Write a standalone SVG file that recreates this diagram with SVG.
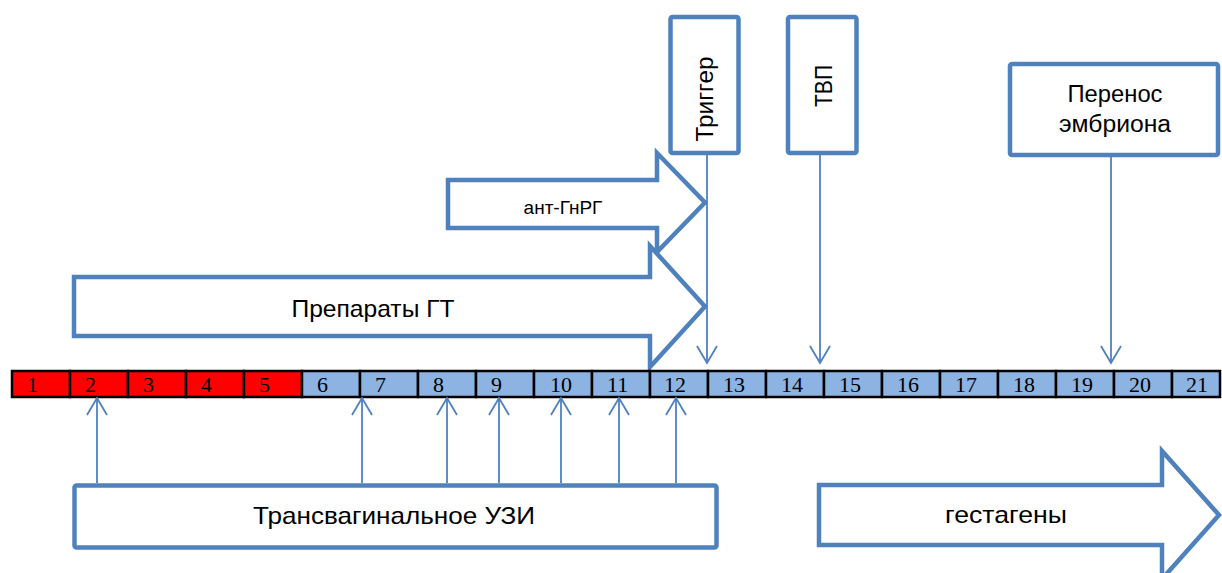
<svg xmlns="http://www.w3.org/2000/svg" width="1222" height="573" viewBox="0 0 1222 573">
<style>
.box{fill:#fff;stroke:#4F81BD;stroke-width:4.5;stroke-linejoin:round}
.blk{fill:#fff;stroke:#4F81BD;stroke-width:4.5;stroke-linejoin:miter}
.lbl{font-family:"Liberation Sans",Arial,sans-serif;fill:#000}
.num{font-family:"Liberation Serif","Times New Roman",serif;font-size:22px;fill:#000}
.red{fill:#FF0000;stroke:#000;stroke-width:2.5}
.blu{fill:#8DB3E2;stroke:#000;stroke-width:2.5}
.con{fill:none;stroke:#4F81BD;stroke-width:1.8}
</style>
<defs>
<marker id="vh" viewBox="0 0 20 22" refX="18" refY="11" markerWidth="20" markerHeight="22" markerUnits="userSpaceOnUse" orient="auto">
<path d="M1,1 L18,11 L1,21" fill="none" stroke="#4F81BD" stroke-width="1.8"/>
</marker>
</defs>
<g id="ant-gnrg">
<path class="blk" d="M448,180 H657 V153 L705,202.5 L657,252 V228 H448 Z"/>
<text class="lbl" x="563" y="214" font-size="19" text-anchor="middle">ант-ГнРГ</text>
</g>
<g id="preparaty-gt">
<path class="blk" d="M74,277 H650 V246 L705,306.5 L650,367 V336 H74 Z"/>
<text class="lbl" x="373" y="317" font-size="24" text-anchor="middle" textLength="163" lengthAdjust="spacingAndGlyphs">Препараты ГТ</text>
</g>
<g id="gestageny">
<path class="blk" d="M819,485 H1162 V451 L1219,515 L1162,579 V545 H819 Z"/>
<text class="lbl" x="1006" y="523" font-size="24" text-anchor="middle" textLength="122" lengthAdjust="spacingAndGlyphs">гестагены</text>
</g>
<g id="trigger">
<rect class="box" x="670.5" y="17" width="68" height="136" rx="2"/>
<text class="lbl" transform="translate(713,99) rotate(-90)" font-size="24" text-anchor="middle" textLength="85" lengthAdjust="spacingAndGlyphs">Триггер</text>
</g>
<g id="tvp">
<rect class="box" x="788" y="17" width="68.5" height="136" rx="2"/>
<text class="lbl" transform="translate(832,86) rotate(-90)" font-size="24" text-anchor="middle" textLength="42" lengthAdjust="spacingAndGlyphs">ТВП</text>
</g>
<g id="embryo">
<rect class="box" x="1010" y="64" width="208" height="91" rx="2"/>
<text class="lbl" x="1115" y="102" font-size="23" text-anchor="middle" textLength="95" lengthAdjust="spacingAndGlyphs">Перенос</text>
<text class="lbl" x="1115" y="132" font-size="23" text-anchor="middle" textLength="112" lengthAdjust="spacingAndGlyphs">эмбриона</text>
</g>
<g id="uzi">
<rect class="box" x="74.5" y="485.5" width="642" height="62" rx="2"/>
<text class="lbl" x="394" y="524" font-size="24" text-anchor="middle" textLength="282" lengthAdjust="spacingAndGlyphs">Трансвагинальное УЗИ</text>
</g>
<g id="timeline">
<rect class="red" x="12" y="371" width="58" height="26"/>
<rect class="red" x="70" y="371" width="58" height="26"/>
<rect class="red" x="128" y="371" width="58" height="26"/>
<rect class="red" x="186" y="371" width="58" height="26"/>
<rect class="red" x="244" y="371" width="58" height="26"/>
<rect class="blu" x="302" y="371" width="58" height="26"/>
<rect class="blu" x="360" y="371" width="58" height="26"/>
<rect class="blu" x="418" y="371" width="58" height="26"/>
<rect class="blu" x="476" y="371" width="58" height="26"/>
<rect class="blu" x="534" y="371" width="58" height="26"/>
<rect class="blu" x="592" y="371" width="58" height="26"/>
<rect class="blu" x="650" y="371" width="58" height="26"/>
<rect class="blu" x="708" y="371" width="58" height="26"/>
<rect class="blu" x="766" y="371" width="58" height="26"/>
<rect class="blu" x="824" y="371" width="58" height="26"/>
<rect class="blu" x="882" y="371" width="58" height="26"/>
<rect class="blu" x="940" y="371" width="58" height="26"/>
<rect class="blu" x="998" y="371" width="58" height="26"/>
<rect class="blu" x="1056" y="371" width="58" height="26"/>
<rect class="blu" x="1114" y="371" width="58" height="26"/>
<rect class="blu" x="1172" y="371" width="48" height="26"/>
<text class="num" x="27" y="392">1</text>
<text class="num" x="85" y="392">2</text>
<text class="num" x="143" y="392">3</text>
<text class="num" x="201" y="392">4</text>
<text class="num" x="259" y="392">5</text>
<text class="num" x="317" y="392">6</text>
<text class="num" x="375" y="392">7</text>
<text class="num" x="433" y="392">8</text>
<text class="num" x="491" y="392">9</text>
<text class="num" x="550" y="392">10</text>
<text class="num" x="607" y="392">11</text>
<text class="num" x="664" y="392">12</text>
<text class="num" x="723" y="392">13</text>
<text class="num" x="781" y="392">14</text>
<text class="num" x="839" y="392">15</text>
<text class="num" x="897" y="392">16</text>
<text class="num" x="955" y="392">17</text>
<text class="num" x="1013" y="392">18</text>
<text class="num" x="1071" y="392">19</text>
<text class="num" x="1129" y="392">20</text>
<text class="num" x="1186" y="392">21</text>
</g>
<g id="connectors">
<line class="con" x1="707" y1="155" x2="707" y2="363" marker-end="url(#vh)"/>
<line class="con" x1="820" y1="155" x2="820" y2="363" marker-end="url(#vh)"/>
<line class="con" x1="1111" y1="157" x2="1111" y2="363" marker-end="url(#vh)"/>
<line class="con" x1="97" y1="483" x2="97" y2="398" marker-end="url(#vh)"/>
<line class="con" x1="362" y1="483" x2="362" y2="398" marker-end="url(#vh)"/>
<line class="con" x1="447" y1="483" x2="447" y2="398" marker-end="url(#vh)"/>
<line class="con" x1="499" y1="483" x2="499" y2="398" marker-end="url(#vh)"/>
<line class="con" x1="561" y1="483" x2="561" y2="398" marker-end="url(#vh)"/>
<line class="con" x1="619" y1="483" x2="619" y2="398" marker-end="url(#vh)"/>
<line class="con" x1="676" y1="483" x2="676" y2="398" marker-end="url(#vh)"/>
</g>
</svg>
